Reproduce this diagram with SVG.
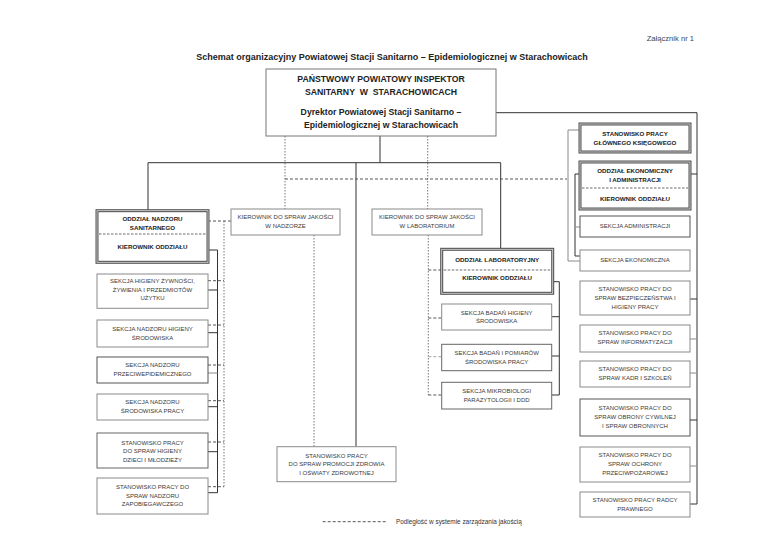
<svg xmlns="http://www.w3.org/2000/svg" width="768" height="543" viewBox="0 0 768 543">
<style>
.bg{fill:#fff}
.box{fill:#fff;stroke:#8a8a8a;stroke-width:1}
.dbl{fill:#fff;stroke:#505050;stroke-width:3}
.dblin{fill:none;stroke:#d6d6d6;stroke-width:0.9}
.t{font-family:"Liberation Sans",Arial,sans-serif;font-size:6px;fill:#3a3a3a;text-anchor:middle}
.b{font-weight:bold;fill:#222;font-size:6.2px}
.big{font-family:"Liberation Sans",Arial,sans-serif;font-weight:bold;font-size:8.7px;fill:#222;text-anchor:middle}
.sl{stroke:#333;stroke-width:1;fill:none}
.gl{stroke:#8a8a8a;stroke-width:1;fill:none}
.ds{stroke:#444;stroke-width:0.9;stroke-dasharray:3 2;fill:none}
.dt{stroke:#666;stroke-width:0.9;stroke-dasharray:1.5 1.5;fill:none}
.sep{stroke:#444;stroke-width:0.8;stroke-dasharray:2.5 1.5;fill:none}
</style>
<rect class="bg" x="0" y="0" width="768" height="543"/>
<text x="694" y="41" style="font-family:'Liberation Sans',Arial,sans-serif;font-size:7.6px;fill:#444;text-anchor:end">Załącznik nr 1</text>
<text x="392" y="60" class="big" style="font-size:9px">Schemat organizacyjny Powiatowej Stacji Sanitarno – Epidemiologicznej w Starachowicach</text>

<g id="connectors">
<!-- top / main -->
<polyline class="sl" points="496,112.7 697,112.7 697,504"/>
<line class="sl" x1="380" y1="136" x2="380" y2="162.7"/>
<polyline class="sl" points="148,210.7 148,162.7 500.7,162.7 500.7,249.3"/>
<line class="sl" x1="356" y1="162.7" x2="356" y2="446.7"/>
<line class="dt" x1="285" y1="136" x2="285" y2="209"/>
<line class="dt" x1="427.7" y1="136" x2="427.7" y2="209"/>
<line class="ds" x1="285" y1="179" x2="567" y2="179"/>
<line class="dt" x1="314" y1="235" x2="314" y2="446.7"/>
<!-- left -->
<polyline class="sl" points="208,250 217.5,250 217.5,492.7 208,492.7"/>
<line class="sl" x1="208" y1="290" x2="217.5" y2="290"/>
<line class="sl" x1="208" y1="332.7" x2="217.5" y2="332.7"/>
<line class="gl" x1="208" y1="373" x2="217.5" y2="373"/>
<line class="sl" x1="208" y1="406.7" x2="217.5" y2="406.7"/>
<line class="sl" x1="208" y1="451.7" x2="217.5" y2="451.7"/>
<line class="ds" x1="208" y1="221" x2="231" y2="221"/>
<line class="dt" x1="224" y1="221" x2="224" y2="486.7"/>
<line class="ds" x1="208" y1="280.7" x2="224" y2="280.7"/>
<line class="ds" x1="208" y1="325" x2="224" y2="325"/>
<line class="ds" x1="208" y1="365" x2="224" y2="365"/>
<line class="ds" x1="208" y1="400.7" x2="224" y2="400.7"/>
<line class="ds" x1="208" y1="442" x2="224" y2="442"/>
<line class="ds" x1="208" y1="486.7" x2="224" y2="486.7"/>
<!-- laboratory -->
<line class="dt" x1="428.3" y1="235" x2="428.3" y2="395"/>
<line class="ds" x1="428.3" y1="270" x2="441.7" y2="270"/>
<line class="ds" x1="428.3" y1="318" x2="441.7" y2="318"/>
<line class="ds" x1="428.3" y1="356.7" x2="441.7" y2="356.7" style="stroke:#999"/>
<line class="ds" x1="428.3" y1="395" x2="441.7" y2="395"/>
<polyline class="sl" points="552.7,281.7 559.3,281.7 559.3,395 551.7,395"/>
<line class="sl" x1="551.7" y1="316.7" x2="559.3" y2="316.7"/>
<line class="sl" x1="551.7" y1="356" x2="559.3" y2="356"/>
<!-- right -->
<line class="sl" x1="690" y1="174" x2="697" y2="174"/>
<line class="sl" x1="690" y1="299" x2="697" y2="299"/>
<line class="gl" x1="690" y1="339" x2="697" y2="339"/>
<line class="gl" x1="690" y1="373" x2="697" y2="373"/>
<line class="sl" x1="690" y1="420" x2="697" y2="420"/>
<line class="gl" x1="690" y1="466" x2="697" y2="466"/>
<line class="sl" x1="690" y1="504" x2="697" y2="504"/>
<polyline class="gl" points="580,130 568,130 568,261 580,261"/>
<polyline class="sl" points="580,174 575,174 575,256 580,256"/>
<line class="gl" x1="575" y1="227" x2="580" y2="227"/>
<!-- legend -->
<line class="ds" x1="322.7" y1="521.7" x2="386" y2="521.7"/>
</g>

<g id="pps">
<rect class="box" x="266" y="69" width="230" height="67" style="stroke:#777"/>
<text class="big" x="381" y="82">PAŃSTWOWY POWIATOWY INSPEKTOR</text>
<text class="big" x="381" y="94.7">SANITARNY&#160; W&#160; STARACHOWICACH</text>
<text class="big" x="381" y="115">Dyrektor Powiatowej Stacji Sanitarno –</text>
<text class="big" x="381" y="128">Epidemiologicznej w Starachowicach</text>
</g>

<g id="kj-nadzor">
<rect class="box" x="231" y="209" width="109" height="26"/>
<text class="t" x="285.5" y="219.1">KIEROWNIK DO SPRAW JAKOŚCI</text>
<text class="t" x="285.5" y="228.1">W NADZORZE</text>
</g>
<g id="kj-lab">
<rect class="box" x="372" y="209" width="110" height="26"/>
<text class="t" x="427" y="219.1">KIEROWNIK DO SPRAW JAKOŚCI</text>
<text class="t" x="427" y="228.1">W LABORATORIUM</text>
</g>

<g id="ons">
<rect class="dbl" x="97" y="210.7" width="111" height="51.6"/>
<rect class="dblin" x="97" y="210.7" width="111" height="51.6"/>
<line class="sep" x1="99" y1="234" x2="206" y2="234"/>
<text class="t b" x="152.5" y="221.2">ODDZIAŁ NADZORU</text>
<text class="t b" x="152.5" y="230.2">SANITARNEGO</text>
<text class="t b" x="152.5" y="248.9">KIEROWNIK ODDZIAŁU</text>
</g>
<g id="s-zyw">
<rect class="box" x="97" y="274" width="111" height="34.3"/>
<text class="t" x="152.5" y="282.8">SEKCJA HIGIENY ŻYWNOŚCI,</text>
<text class="t" x="152.5" y="292.1">ŻYWIENIA I PRZEDMIOTÓW</text>
<text class="t" x="152.5" y="300.4">UŻYTKU</text>
</g>
<g id="s-hs">
<rect class="box" x="97" y="320" width="111" height="27"/>
<text class="t" x="152.5" y="331.1">SEKCJA NADZORU HIGIENY</text>
<text class="t" x="152.5" y="340.1">ŚRODOWISKA</text>
</g>
<g id="s-pe">
<rect class="box" x="97" y="357" width="111" height="26" style="stroke:#555"/>
<text class="t" x="152.5" y="367.1">SEKCJA NADZORU</text>
<text class="t" x="152.5" y="375.6">PRZECIWEPIDEMICZNEGO</text>
</g>
<g id="s-sp">
<rect class="box" x="97" y="394" width="111" height="26"/>
<text class="t" x="152.5" y="404.1">SEKCJA NADZORU</text>
<text class="t" x="152.5" y="413.1">ŚRODOWISKA PRACY</text>
</g>
<g id="s-dm">
<rect class="box" x="97" y="433" width="111" height="35" style="stroke:#666"/>
<text class="t" x="152.5" y="444.8">STANOWISKO PRACY</text>
<text class="t" x="152.5" y="453.1">DO SPRAW HIGIENY</text>
<text class="t" x="152.5" y="462.1">DZIECI I MŁODZIEŻY</text>
</g>
<g id="s-zap">
<rect class="box" x="97" y="478" width="111" height="36"/>
<text class="t" x="152.5" y="488.8">STANOWISKO PRACY DO</text>
<text class="t" x="152.5" y="497.8">SPRAW NADZORU</text>
<text class="t" x="152.5" y="506.4">ZAPOBIEGAWCZEGO</text>
</g>

<g id="promocja">
<rect class="box" x="277" y="446.7" width="119" height="35"/>
<text class="t" x="336.5" y="457.8">STANOWISKO PRACY</text>
<text class="t" x="336.5" y="466.4">DO SPRAW PROMOCJI ZDROWIA</text>
<text class="t" x="336.5" y="475.4">I OŚWIATY ZDROWOTNEJ</text>
</g>

<g id="olab">
<rect class="dbl" x="441.7" y="249.3" width="111" height="44"/>
<rect class="dblin" x="441.7" y="249.3" width="111" height="44"/>
<line class="sep" x1="443.7" y1="270" x2="550.7" y2="270"/>
<text class="t b" x="497.2" y="261.5">ODDZIAŁ LABORATORYJNY</text>
<text class="t b" x="497.2" y="279.9">KIEROWNIK ODDZIAŁU</text>
</g>
<g id="s-bhs">
<rect class="box" x="441.7" y="304" width="110" height="26"/>
<text class="t" x="496.7" y="314.8">SEKCJA BADAŃ HIGIENY</text>
<text class="t" x="496.7" y="322.8">ŚRODOWISKA</text>
</g>
<g id="s-bps">
<rect class="box" x="441.7" y="344.3" width="110" height="26.4" style="stroke:#666"/>
<text class="t" x="496.7" y="354.8">SEKCJA BADAŃ I POMIARÓW</text>
<text class="t" x="496.7" y="363.8">ŚRODOWISKA PRACY</text>
</g>
<g id="s-mik">
<rect class="box" x="441.7" y="382.3" width="110" height="26.7" style="stroke:#666"/>
<text class="t" x="496.7" y="392.8">SEKCJA MIKROBIOLOGI</text>
<text class="t" x="496.7" y="402.1">PARAZYTOLOGII I DDD</text>
</g>

<g id="gk">
<rect class="dbl" x="580" y="124" width="110" height="28"/>
<rect class="dblin" x="580" y="124" width="110" height="28"/>
<text class="t b" x="635" y="136.1">STANOWISKO PRACY</text>
<text class="t b" x="635" y="145.1">GŁÓWNEGO KSIĘGOWEGO</text>
</g>
<g id="oea">
<rect class="dbl" x="580" y="162" width="110" height="47"/>
<rect class="dblin" x="580" y="162" width="110" height="47"/>
<line class="sep" x1="582" y1="188" x2="688" y2="188"/>
<text class="t b" x="635" y="173.1">ODDZIAŁ EKONOMICZNY</text>
<text class="t b" x="635" y="182.1">I ADMINISTRACJI</text>
<text class="t b" x="635" y="201.1">KIEROWNIK ODDZIAŁU</text>
</g>
<g id="s-adm">
<rect class="box" x="580" y="216" width="110" height="21" style="stroke:#555"/>
<text class="t" x="635" y="227.6">SEKCJA ADMINISTRACJI</text>
</g>
<g id="s-eko">
<rect class="box" x="580" y="250" width="110" height="21"/>
<text class="t" x="635" y="261.6">SEKCJA EKONOMICZNA</text>
</g>
<g id="bhp">
<rect class="box" x="580" y="281" width="110" height="34"/>
<text class="t" x="635" y="291.1">STANOWISKO PRACY DO</text>
<text class="t" x="635" y="300.1">SPRAW BEZPIECZEŃSTWA I</text>
<text class="t" x="635" y="309.1">HIGIENY PRACY</text>
</g>
<g id="inf">
<rect class="box" x="580" y="325" width="110" height="27"/>
<text class="t" x="635" y="335.1">STANOWISKO PRACY DO</text>
<text class="t" x="635" y="344.1">SPRAW INFORMATYZACJI</text>
</g>
<g id="kadr">
<rect class="box" x="580" y="361" width="110" height="26"/>
<text class="t" x="635" y="371.1">STANOWISKO PRACY DO</text>
<text class="t" x="635" y="380.1">SPRAW KADR I SZKOLEŃ</text>
</g>
<g id="oc">
<rect class="box" x="580" y="399" width="110" height="37" style="stroke:#555"/>
<text class="t" x="635" y="410.1">STANOWISKO PRACY DO</text>
<text class="t" x="635" y="419.1">SPRAW OBRONY CYWILNEJ</text>
<text class="t" x="635" y="428.1">I SPRAW OBRONNYCH</text>
</g>
<g id="ppoz">
<rect class="box" x="580" y="447" width="110" height="35"/>
<text class="t" x="635" y="457.1">STANOWISKO PRACY DO</text>
<text class="t" x="635" y="466.1">SPRAW OCHRONY</text>
<text class="t" x="635" y="475.1">PRZECIWPOŻAROWEJ</text>
</g>
<g id="radca">
<rect class="box" x="580" y="492" width="110" height="25"/>
<text class="t" x="635" y="502.1">STANOWISKO PRACY RADCY</text>
<text class="t" x="635" y="511.1">PRAWNEGO</text>
</g>

<text x="396" y="523.8" style="font-family:'Liberation Sans',Arial,sans-serif;font-size:6.4px;fill:#333">Podległość w systemie zarządzania jakością</text>
</svg>
